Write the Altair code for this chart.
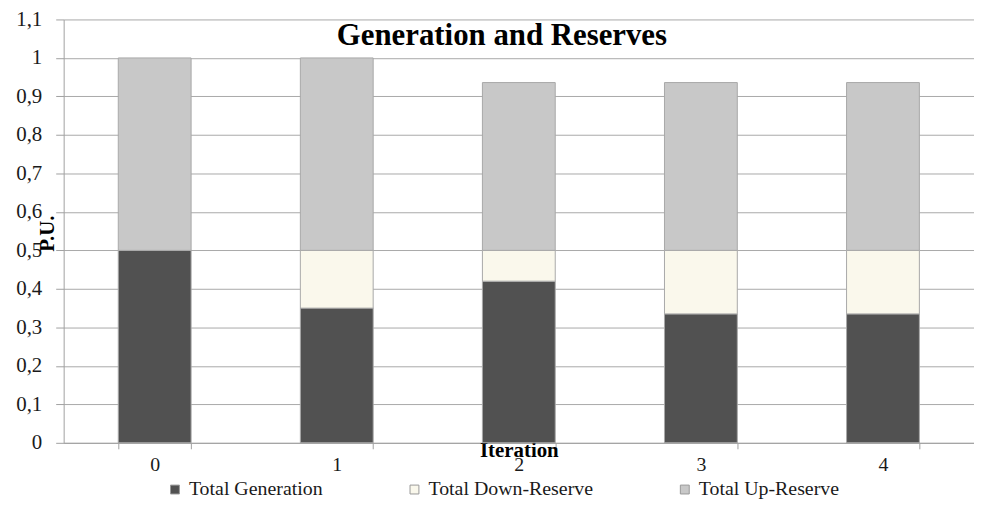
import altair as alt
import pandas as pd

iterations = ["0", "1", "2", "3", "4"]
total_generation = [0.50, 0.35, 0.42, 0.335, 0.335]
total_down_reserve = [0.00, 0.15, 0.08, 0.165, 0.165]
total_up_reserve = [0.50, 0.50, 0.436, 0.436, 0.436]
series_names = ["Total Generation", "Total Down-Reserve", "Total Up-Reserve"]
series_colors = ["#515151", "#FAF8EC", "#C8C8C8"]

rows = []
for i, it in enumerate(iterations):
    for k, (name, vals) in enumerate(zip(series_names, [total_generation, total_down_reserve, total_up_reserve])):
        rows.append({"Iteration": it, "Series": name, "Value": vals[i], "Order": k})
df = pd.DataFrame(rows)

FONT = "Liberation Serif"

bars = alt.Chart(df).mark_bar(stroke="#A8A8A8", strokeWidth=1).encode(
    x=alt.X("Iteration:N", sort=iterations,
            scale=alt.Scale(paddingInner=0.6, paddingOuter=0.3),
            axis=alt.Axis(title="Iteration", labelAngle=0, tickBand="extent",
                          titleY=-3, titleBaseline="top", titleFontWeight="bold",
                          titleFont=FONT, labelFont=FONT,
                          titleFontSize=21, labelFontSize=20, labelPadding=6,
                          tickSize=6, domainColor="#A0A0A0", tickColor="#A0A0A0")),
    y=alt.Y("Value:Q", stack="zero",
            scale=alt.Scale(domain=[0, 1.1], nice=False),
            axis=alt.Axis(title="P.U.", values=[round(0.1 * i, 1) for i in range(12)],
                          labelExpr="replace(format(datum.value, '.1~f'), '.', ',')",
                          titleX=-6, titleY=215, titleAngle=-90, titleAlign="center",
                          titleBaseline="bottom", titleFontWeight="bold", titleFontSize=21,
                          titleFont=FONT, labelFont=FONT,
                          labelFontSize=21, labelPadding=14, tickSize=8,
                          gridColor="#A8A8A8", domainColor="#A0A0A0", tickColor="#A0A0A0")),
    color=alt.Color("Series:N", sort=series_names,
                    scale=alt.Scale(domain=series_names, range=series_colors),
                    legend=alt.Legend(title=None, orient="none", direction="horizontal",
                                      legendX=102, legendY=463, symbolType="square",
                                      symbolSize=80, symbolStrokeColor="#999999",
                                      symbolStrokeWidth=1, labelFontSize=20, labelFont=FONT,
                                      labelLimit=400, columnPadding=82, labelOffset=4)),
    order=alt.Order("Order:Q"),
)

chart = bars.properties(
    width=916, height=426,
    title=alt.TitleParams("Generation and Reserves", font=FONT, fontSize=31,
                          fontWeight="bold", color="#000000", offset=-44, dx=-17,
                          anchor="middle"),
    autosize=alt.AutoSizeParams(type="none"),
    padding={"left": 56, "top": 10, "right": 0, "bottom": 55},
).configure(font=FONT).configure_axis(
    labelColor="#1a1a1a", titleColor="#000000",
).configure_legend(labelColor="#1a1a1a").configure_view(stroke=None)

chart.save("out.html", embed_options={"renderer": "svg", "actions": False})
